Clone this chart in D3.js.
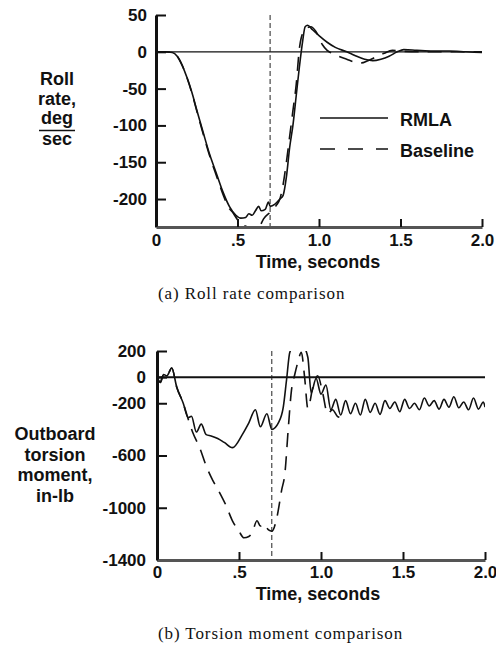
<!DOCTYPE html>
<html>
<head>
<meta charset="utf-8">
<script src="https://cdn.jsdelivr.net/npm/d3@7"></script>
<style>
  body { margin: 0; background: #fff; }
  svg text { font-family: "Liberation Sans", Arial, sans-serif; font-weight: bold; fill: #111; }
  svg text.cap { font-family: "Liberation Serif", "Times New Roman", serif; font-weight: normal; }
</style>
</head>
<body>
<div id="chart"></div>
<script>
// time ticks shared by both panels
var timeTicks = [0, 0.5, 1.0, 1.5, 2.0];
var timeTickLabels = ["0", ".5", "1.0", "1.5", "2.0"];
var switchTime = 0.7;

// (a) roll rate, deg/sec
var rollTicks = [50, 0, -50, -100, -150, -200];
var rollRmlaT = [0, 0.05, 0.1, 0.13, 0.16, 0.19, 0.22, 0.25, 0.29, 0.33, 0.37, 0.41, 0.45, 0.49, 0.52, 0.55, 0.57, 0.59, 0.61, 0.63, 0.645, 0.67, 0.69, 0.7, 0.73, 0.76, 0.78, 0.8, 0.82, 0.84, 0.86, 0.88, 0.9, 0.915, 0.93, 0.96, 1.0, 1.05, 1.1, 1.17, 1.22, 1.28, 1.33, 1.38, 1.43, 1.48, 1.52, 1.6, 1.7, 1.8, 1.9, 2.0];
var rollRmlaV = [0, 0, -1, -6, -18, -35, -55, -79, -110, -140, -165, -190, -210, -222, -226, -225, -220, -222, -216, -210, -216, -214, -204, -210, -207, -200, -195, -170, -130, -100, -60, -20, 15, 34, 36, 30, 22, 13, 6, 0, -5, -10, -12, -10, -6, 0, 3, 2, 1, 1, 0, -1];
var rollBaseT = [0, 0.05, 0.1, 0.13, 0.16, 0.19, 0.22, 0.25, 0.29, 0.33, 0.37, 0.41, 0.45, 0.47, 0.5, 0.53, 0.56, 0.6, 0.63, 0.66, 0.7, 0.74, 0.76, 0.78, 0.8, 0.82, 0.84, 0.86, 0.88, 0.89, 0.92, 0.95, 0.98, 1.02, 1.05, 1.08, 1.12, 1.17, 1.22, 1.26, 1.3, 1.35, 1.4, 1.45, 1.5, 1.6, 1.7, 1.8, 1.9, 2.0];
var rollBaseV = [0, 0, -1, -6, -18, -35, -56, -80, -112, -142, -168, -193, -213, -218, -228, -235, -238, -245, -240, -227, -218, -208, -200, -180, -150, -115, -80, -45, 5, 18, 32, 34, 28, 10, 2, -2, -6, -10, -14, -15, -12, -7, -2, 2, 1, 0, 0, 0, 0, 0];

// (b) outboard torsion moment, in-lb
var torTicks = [200, 0, -200, -600, -1000, -1400];
var torRmlaT = [0, 0.02, 0.04, 0.06, 0.09, 0.12, 0.16, 0.19, 0.21, 0.24, 0.27, 0.3, 0.33, 0.37, 0.41, 0.46, 0.52, 0.56, 0.6, 0.63, 0.67, 0.7, 0.74, 0.77, 0.79, 0.81, 0.85, 0.89, 0.92, 0.94, 0.97, 1.0, 1.03, 1.06, 1.09, 1.12, 1.15, 1.18, 1.21, 1.24, 1.27, 1.3, 1.33, 1.36, 1.39, 1.42, 1.45, 1.48, 1.51, 1.54, 1.57, 1.6, 1.63, 1.66, 1.69, 1.72, 1.75, 1.78, 1.81, 1.84, 1.87, 1.9, 1.93, 1.96, 1.99, 2.0];
var torRmlaV = [0, -40, 20, 10, 70, -75, -200, -310, -300, -420, -360, -440, -450, -470, -500, -540, -440, -350, -250, -380, -280, -400, -350, -230, -20, 190, 260, 240, 150, -120, -10, -130, -60, -250, -170, -290, -180, -280, -200, -290, -170, -270, -200, -285, -180, -240, -190, -265, -170, -240, -200, -250, -160, -220, -180, -245, -170, -230, -150, -235, -190, -250, -160, -245, -190, -230];
var torBaseT = [0, 0.02, 0.04, 0.06, 0.09, 0.12, 0.16, 0.19, 0.22, 0.26, 0.3, 0.34, 0.38, 0.42, 0.46, 0.5, 0.53, 0.56, 0.58, 0.61, 0.63, 0.65, 0.68, 0.7, 0.73, 0.76, 0.78, 0.8, 0.82, 0.84, 0.86, 0.88, 0.9, 0.92, 0.95, 0.98, 1.01, 1.04, 1.07, 1.1, 1.12];
var torBaseV = [0, -40, 20, 10, 70, -75, -200, -320, -430, -540, -680, -790, -880, -980, -1100, -1180, -1230, -1220, -1190, -1100, -1140, -1120, -1170, -1180, -1080, -865, -735, -400, -100, 20, 120, 190, 0, -240, -80, 10, -120, -280, -250, -300, -310];

var W = 496, H = 648;
var svg = d3.select("#chart").append("svg").attr("width", W).attr("height", H);

function zip(ts, vs) { return ts.map(function(t, i) { return [t, vs[i]]; }); }

function panel(o) {
    var x = d3.scaleLinear().domain([0, 2]).range([o.left, o.right]);
    var y = d3.scaleLinear().domain(o.ydom).range([o.bottom, o.top]);
    var g = svg.append("g");

    g.append("clipPath").attr("id", o.id).append("rect")
        .attr("x", o.left).attr("y", o.top).attr("width", o.right - o.left).attr("height", o.bottom - o.top);

    // zero reference line
    g.append("line").attr("x1", x(0)).attr("x2", x(2)).attr("y1", y(0)).attr("y2", y(0))
        .attr("stroke", "#111").attr("stroke-width", o.zeroW);

    // switch time marker
    g.append("line").attr("x1", x(switchTime)).attr("x2", x(switchTime))
        .attr("y1", o.top).attr("y2", o.bottom)
        .attr("stroke", "#222").attr("stroke-width", 1).attr("stroke-dasharray", "5,3");

    var line = d3.line().x(function(d) { return x(d[0]); }).y(function(d) { return y(d[1]); })
        .curve(d3.curveMonotoneX);
    var lines = g.append("g").attr("clip-path", "url(#" + o.id + ")");
    lines.append("path").attr("d", line(zip(o.baseT, o.baseV))).attr("fill", "none")
        .attr("stroke", "#111").attr("stroke-width", 1.6).attr("stroke-dasharray", "14,9");
    lines.append("path").attr("d", line(zip(o.rmlaT, o.rmlaV))).attr("fill", "none")
        .attr("stroke", "#111").attr("stroke-width", 1.6);

    // axes
    var ya = g.append("g").attr("transform", "translate(" + o.left + ",0)")
        .call(d3.axisLeft(y).tickValues(o.yticks).tickFormat(function(d) { return String(d); })
            .tickSizeInner(-10).tickSizeOuter(0).tickPadding(o.ypad));
    ya.select(".domain").attr("stroke", "#111").attr("stroke-width", 3);
    ya.selectAll(".tick line").attr("stroke", "#111").attr("stroke-width", 2);
    ya.selectAll(".tick text").style("font-size", "17px").attr("fill", "#111");

    var xa = g.append("g").attr("transform", "translate(0," + o.bottom + ")")
        .call(d3.axisBottom(x).tickValues(timeTicks).tickFormat(function(d, i) { return timeTickLabels[i]; })
            .tickSizeInner(-8).tickSizeOuter(0).tickPadding(o.xpad));
    xa.select(".domain").attr("stroke", "#555").attr("stroke-width", 3);
    xa.selectAll(".tick line").attr("stroke", "#111").attr("stroke-width", 2);
    xa.selectAll(".tick text").style("font-size", "17px").attr("fill", "#111");

    g.append("text").attr("x", 318).attr("y", o.titleY).attr("text-anchor", "middle")
        .style("font-size", "18px").text("Time, seconds");

    g.append("text").attr("class", "cap").attr("x", 158).attr("y", o.capY)
        .style("font-size", "17px").style("letter-spacing", "0.9px").text(o.caption);
    return g;
}

panel({ id: "clipA", left: 156, right: 482, top: 15, bottom: 227, ydom: [-238, 50],
    yticks: rollTicks, ypad: 9, xpad: 7, zeroW: 1.2, titleY: 268, capY: 299,
    caption: "(a)  Roll rate comparison",
    rmlaT: rollRmlaT, rmlaV: rollRmlaV, baseT: rollBaseT, baseV: rollBaseV });

panel({ id: "clipB", left: 157, right: 485, top: 351, bottom: 560, ydom: [-1400, 200],
    yticks: torTicks, ypad: 11, xpad: 6, zeroW: 2, titleY: 600, capY: 639,
    caption: "(b)  Torsion moment comparison",
    rmlaT: torRmlaT, rmlaV: torRmlaV, baseT: torBaseT, baseV: torBaseV });

// y axis titles
var rollLabel = ["Roll", "rate,", "deg", "sec"];
var rollLabelY = [85, 105, 124, 145];
svg.selectAll("text.rl").data(rollLabel).enter().append("text")
    .attr("x", 57).attr("y", function(d, i) { return rollLabelY[i]; })
    .attr("text-anchor", "middle").style("font-size", "18px").text(function(d) { return d; });
svg.append("line").attr("x1", 39).attr("x2", 75).attr("y1", 130.5).attr("y2", 130.5)
    .attr("stroke", "#111").attr("stroke-width", 1.5);

var torLabel = ["Outboard", "torsion", "moment,", "in-lb"];
svg.selectAll("text.tl").data(torLabel).enter().append("text")
    .attr("x", 55).attr("y", function(d, i) { return 440 + i * 20.5; })
    .attr("text-anchor", "middle").style("font-size", "18px").text(function(d) { return d; });

// legend
var legendNames = ["RMLA", "Baseline"];
var legendDash = [null, "15,13"];
var legendY = [118, 149];
var leg = svg.append("g");
legendNames.forEach(function(n, i) {
    leg.append("line").attr("x1", 320).attr("x2", 388).attr("y1", legendY[i]).attr("y2", legendY[i])
        .attr("stroke", "#111").attr("stroke-width", 1.6).attr("stroke-dasharray", legendDash[i]);
    leg.append("text").attr("x", 400).attr("y", legendY[i] + 8).style("font-size", "18px").text(n);
});
</script>
</body>
</html>
